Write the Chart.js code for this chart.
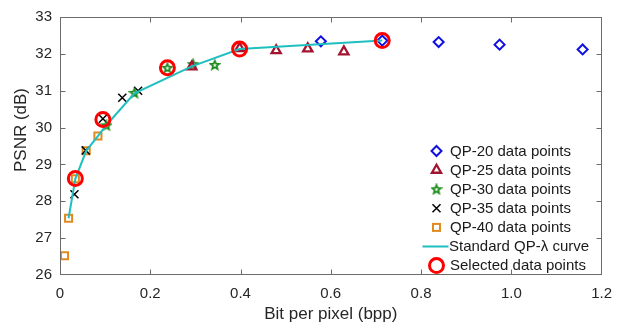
<!DOCTYPE html>
<html><head><meta charset="utf-8">
<script src="https://cdn.jsdelivr.net/npm/chart.js@4.4.0/dist/chart.umd.min.js"></script>
<style>html,body{margin:0;padding:0;background:#fff;}#wrap{width:622px;height:325px;}</style>
</head><body><div id="wrap"><canvas id="c" width="622" height="325"></canvas></div>
<script>
const qp20X = [0.578, 0.714, 0.839, 0.974, 1.158];
const qp20Y = [32.34, 32.36, 32.32, 32.25, 32.12];
const qp25X = [0.292, 0.398, 0.479, 0.549, 0.629];
const qp25Y = [31.65, 32.15, 32.09, 32.14, 32.06];
const qp30X = [0.103, 0.165, 0.238, 0.295, 0.343];
const qp30Y = [30.06, 30.94, 31.62, 31.72, 31.70];
const qp35X = [0.032, 0.057, 0.095, 0.138, 0.173];
const qp35Y = [28.19, 29.38, 30.24, 30.81, 31.00];
const qp40X = [0.010, 0.019, 0.034, 0.058, 0.084];
const qp40Y = [26.52, 27.54, 28.61, 29.37, 29.77];
const curveX = [0.019, 0.034, 0.058, 0.084, 0.103, 0.165, 0.292, 0.398, 0.714];
const curveY = [27.54, 28.61, 29.37, 29.77, 30.07, 30.93, 31.66, 32.13, 32.36];
const selX = [0.034, 0.095, 0.238, 0.398, 0.714];
const selY = [28.62, 30.22, 31.62, 32.13, 32.36];
const xTicks = [0, 0.2, 0.4, 0.6, 0.8, 1, 1.2];
const yTicks = [26, 27, 28, 29, 30, 31, 32, 33];
const legendLabels = ['QP-20 data points','QP-25 data points','QP-30 data points','QP-35 data points','QP-40 data points','Standard QP-\u03bb curve','Selected data points'];
const yTitle = 'PSNR (dB)';

const C20='#1010e0', C25='#a2142f', C30='#1a8a1a', C35='#000000', C40='#e08a20', CL='#20bfbf', CS='#ff0000';
const FONT='"Liberation Sans", Arial, sans-serif';
const pts = (xs, ys) => xs.map((x, i) => ({x, y: ys[i]}));

function starPath(ctx, cx, cy, ro, ri){
  ctx.beginPath();
  for(let i=0;i<10;i++){
    const r = i%2===0 ? ro : ri;
    const a = -Math.PI/2 + i*Math.PI/5;
    const px = cx + r*Math.cos(a), py = cy + r*Math.sin(a);
    if(i===0) ctx.moveTo(px,py); else ctx.lineTo(px,py);
  }
  ctx.closePath();
}
const starCanvas = document.createElement('canvas');
starCanvas.width = 12; starCanvas.height = 12;
(function(){const s=starCanvas.getContext('2d');s.strokeStyle=C30;s.lineWidth=1.7;starPath(s,6,6.3,4.6,2.0);s.stroke();})();

function drawMarker(ctx, type, x, y){
  ctx.save();
  ctx.lineJoin='miter';
  if(type===0){ctx.strokeStyle=C20;ctx.lineWidth=2;ctx.beginPath();ctx.moveTo(x,y-5);ctx.lineTo(x+5,y);ctx.lineTo(x,y+5);ctx.lineTo(x-5,y);ctx.closePath();ctx.stroke();}
  else if(type===1){ctx.strokeStyle=C25;ctx.lineWidth=2.3;const r=5.3;ctx.beginPath();ctx.moveTo(x,y-r);ctx.lineTo(x+r*0.866,y+r*0.5);ctx.lineTo(x-r*0.866,y+r*0.5);ctx.closePath();ctx.stroke();}
  else if(type===2){ctx.drawImage(starCanvas,x-6,y-6);}
  else if(type===3){ctx.strokeStyle=C35;ctx.lineWidth=1.5;const d=4;ctx.beginPath();ctx.moveTo(x-d,y-d);ctx.lineTo(x+d,y+d);ctx.moveTo(x+d,y-d);ctx.lineTo(x-d,y+d);ctx.stroke();}
  else if(type===4){ctx.strokeStyle=C40;ctx.lineWidth=2;ctx.strokeRect(x-3.5,y-3.5,7,7);}
  else if(type===5){ctx.strokeStyle=CL;ctx.lineWidth=2;ctx.beginPath();ctx.moveTo(x-14,y);ctx.lineTo(x+12,y);ctx.stroke();}
  else if(type===6){ctx.strokeStyle=CS;ctx.lineWidth=3;ctx.beginPath();ctx.arc(x,y,7,0,Math.PI*2);ctx.stroke();}
  ctx.restore();
}

const frame = {
  id:'frame',
  afterDraw(chart){
    const ctx=chart.ctx, a=chart.chartArea, xs=chart.scales.x, ys=chart.scales.y;
    ctx.save();
    ctx.strokeStyle='#6b6b6b'; ctx.lineWidth=1;
    const L=Math.round(a.left)+0.5, R=Math.round(a.right)-0.5, T=Math.round(a.top)+0.5, B=Math.round(a.bottom)-0.5;
    ctx.beginPath();
    xTicks.forEach(v=>{const px=Math.round(xs.getPixelForValue(v))+0.5; if(v>0&&v<1.2){ctx.moveTo(px,B);ctx.lineTo(px,B-5);ctx.moveTo(px,T);ctx.lineTo(px,T+5);}});
    yTicks.forEach(v=>{const py=Math.round(ys.getPixelForValue(v))+0.5; if(v>26&&v<33){ctx.moveTo(L,py);ctx.lineTo(L+5,py);ctx.moveTo(R,py);ctx.lineTo(R-5,py);}});
    ctx.stroke();
    // legend
    ctx.fillStyle='#fff';
    ctx.fillRect(418,139,188,135);
    ctx.beginPath();
    xTicks.forEach(v=>{const px=Math.round(xs.getPixelForValue(v))+0.5; if(v>0&&v<1.2&&px>418){ctx.moveTo(px,B);ctx.lineTo(px,B-5);}});
    yTicks.forEach(v=>{const py=Math.round(ys.getPixelForValue(v))+0.5; if(v>26&&v<33&&py>139){ctx.moveTo(R,py);ctx.lineTo(R-5,py);}});
    ctx.stroke();
    ctx.strokeRect(L,T,R-L,B-T);
    ctx.font='15px '+FONT;
    ctx.fillStyle='#1a1a1a'; ctx.textBaseline='middle'; ctx.textAlign='left';
    legendLabels.forEach((t,i)=>{
      const y=151+i*19.1;
      drawMarker(ctx,i,436.5,y);
      ctx.fillText(t, i===5?449:450, y+0.5);
    });
    // y axis title
    ctx.save();
    ctx.translate(21,130);
    ctx.rotate(-Math.PI/2);
    ctx.textAlign='center'; ctx.textBaseline='middle';
    ctx.font='17px '+FONT; ctx.fillStyle='#262626';
    ctx.fillText(yTitle,0,0);
    ctx.restore();
    ctx.restore();
  }
};

new Chart(document.getElementById('c'), {
  type:'scatter',
  data:{datasets:[
    {label:legendLabels[6], data:pts(selX,selY), pointStyle:'circle', pointRadius:7, pointBorderWidth:3, borderColor:CS, backgroundColor:'rgba(0,0,0,0)', order:0},
    {label:legendLabels[5], data:pts(curveX,curveY), showLine:true, pointRadius:0, borderColor:CL, borderWidth:2, order:1},
    {label:legendLabels[0], data:pts(qp20X,qp20Y), pointStyle:'rectRot', pointRadius:5, pointBorderWidth:2, borderColor:C20, backgroundColor:'rgba(0,0,0,0)', order:2},
    {label:legendLabels[1], data:pts(qp25X,qp25Y), pointStyle:'triangle', pointRadius:5.3, pointBorderWidth:2.3, borderColor:C25, backgroundColor:'rgba(0,0,0,0)', order:3},
    {label:legendLabels[2], data:pts(qp30X,qp30Y), pointStyle:starCanvas, pointRadius:5, borderColor:C30, backgroundColor:'rgba(0,0,0,0)', order:4},
    {label:legendLabels[3], data:pts(qp35X,qp35Y), pointStyle:'crossRot', pointRadius:5.7, pointBorderWidth:1.5, borderColor:C35, backgroundColor:'rgba(0,0,0,0)', order:5},
    {label:legendLabels[4], data:pts(qp40X,qp40Y), pointStyle:'rect', pointRadius:5, pointBorderWidth:2, borderColor:C40, backgroundColor:'rgba(0,0,0,0)', order:6}
  ]},
  options:{
    responsive:false, animation:false, devicePixelRatio:1,
    layout:{padding:{left:0,right:14,top:14,bottom:0}},
    plugins:{legend:{display:false}, tooltip:{enabled:false}},
    scales:{
      x:{type:'linear', min:0, max:1.2,
        afterBuildTicks:s=>{s.ticks=xTicks.map(v=>({value:v}));},
        afterFit:s=>{s.height=50;},
        grid:{display:false, drawTicks:false}, border:{display:false},
        ticks:{padding:10, color:'#262626', font:{size:15, family:FONT}, maxRotation:0, autoSkip:false},
        title:{display:true, text:'Bit per pixel (bpp)', color:'#262626', padding:{top:2,bottom:0}, font:{size:17, family:FONT}}},
      y:{type:'linear', min:26, max:33,
        afterBuildTicks:s=>{s.ticks=yTicks.map(v=>({value:v}));},
        afterFit:s=>{s.width=60;},
        grid:{display:false, drawTicks:false}, border:{display:false},
        ticks:{padding:8, color:'#262626', font:{size:15, family:FONT}, autoSkip:false},
        title:{display:false, text:yTitle}}
    }
  },
  plugins:[frame]
});
</script></body></html>
